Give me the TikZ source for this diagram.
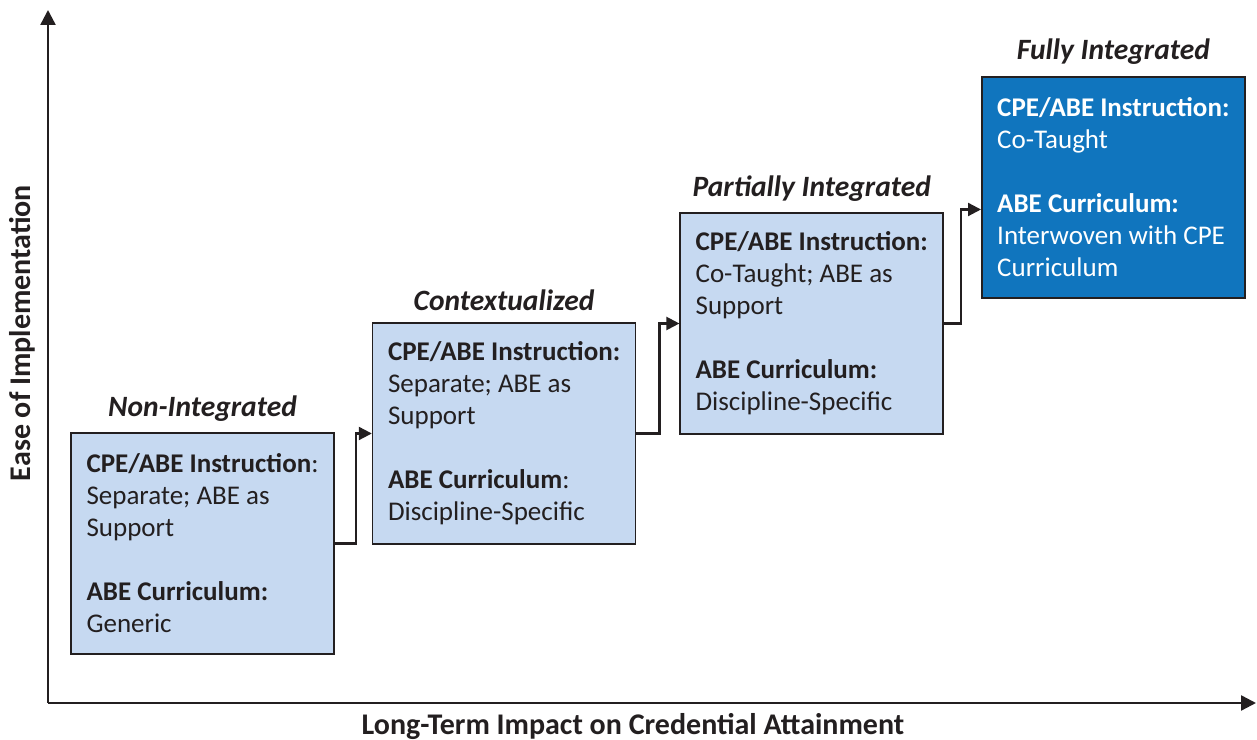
\documentclass[tikz,border=0pt]{standalone}
\usepackage{fontspec}
\setmainfont{Carlito}
\usepackage{xcolor}
\usetikzlibrary{arrows.meta, positioning}
\definecolor{stageline}{RGB}{35,31,32}
\definecolor{stagelight}{RGB}{198,217,241}
\definecolor{stagedark}{RGB}{16,117,190}

\begin{document}
\begin{tikzpicture}[
  x=1bp, y=1bp,
  stage/.style={rectangle, draw=stageline, line width=1.6bp,
    fill=stagelight, text=stageline, align=left,
    minimum width=263bp, minimum height=221bp,
    font=\fontsize{27bp}{32bp}\selectfont},
  full/.style={stage, fill=stagedark, text=white},
  stagetitle/.style={inner sep=0pt, text=stageline,
    font=\fontsize{29.5bp}{34bp}\selectfont\bfseries\itshape},
  axislabel/.style={inner sep=0pt, text=stageline,
    font=\fontsize{30bp}{34bp}\selectfont\bfseries},
  link/.style={draw=stageline, line width=2.2bp,
    -{Triangle[length=13bp, width=13bp]}},
  axis/.style={draw=stageline, line width=2.4bp,
    -{Triangle[length=15bp, width=15bp]}}
]
\useasboundingbox (0,0) rectangle (1257,740);

% Axes
\coordinate (origin) at (48,37);
\coordinate (ytop) at (48,730);
\coordinate (xend) at (1256,37);
\draw[axis] (origin) -- (ytop);
\draw[axis] (origin) -- (xend);
\node[axislabel, rotate=90] (ylab) at (22,407) {Ease of Implementation};
\node[axislabel] (xlab) at (633,14) {Long-Term Impact on Credential Attainment};

% Stages
\node[stage] (b1) at (202.5,196.5)
  {\textbf{CPE/ABE Instruction}:\\Separate; ABE as\\Support\\[32bp]
   \textbf{ABE Curriculum:}\\Generic};
\node[stage, right=37bp of b1, yshift=110bp] (b2)
  {\textbf{CPE/ABE Instruction:}\\Separate; ABE as\\Support\\[32bp]
   \textbf{ABE Curriculum}:\\Discipline-Specific};
\node[stage, right=43bp of b2, yshift=110bp] (b3)
  {\textbf{CPE/ABE Instruction:}\\Co-Taught; ABE as\\Support\\[32bp]
   \textbf{ABE Curriculum:}\\Discipline-Specific};
\node[full, right=37bp of b3, yshift=136bp] (b4)
  {\textbf{CPE/ABE Instruction:}\\Co-Taught\\[32bp]
   \textbf{ABE Curriculum:}\\Interwoven with CPE\\Curriculum};

% Titles
\node[stagetitle, above=11bp of b1] (t1) {Non-Integrated};
\node[stagetitle, above=11bp of b2] (t2) {Contextualized};
\node[stagetitle, above=11bp of b3] (t3) {Partially Integrated};
\node[stagetitle, above=12bp of b4] (t4) {Fully Integrated};

% Steps
\draw[link] (b1.east) -- ++(21bp,0) |- (b2.west);
\draw[link] (b2.east) -- ++(23bp,0) |- (b3.west);
\draw[link] (b3.east) -- ++(17bp,0) |- ([yshift=-22bp]b4.west);
\end{tikzpicture}
\end{document}
